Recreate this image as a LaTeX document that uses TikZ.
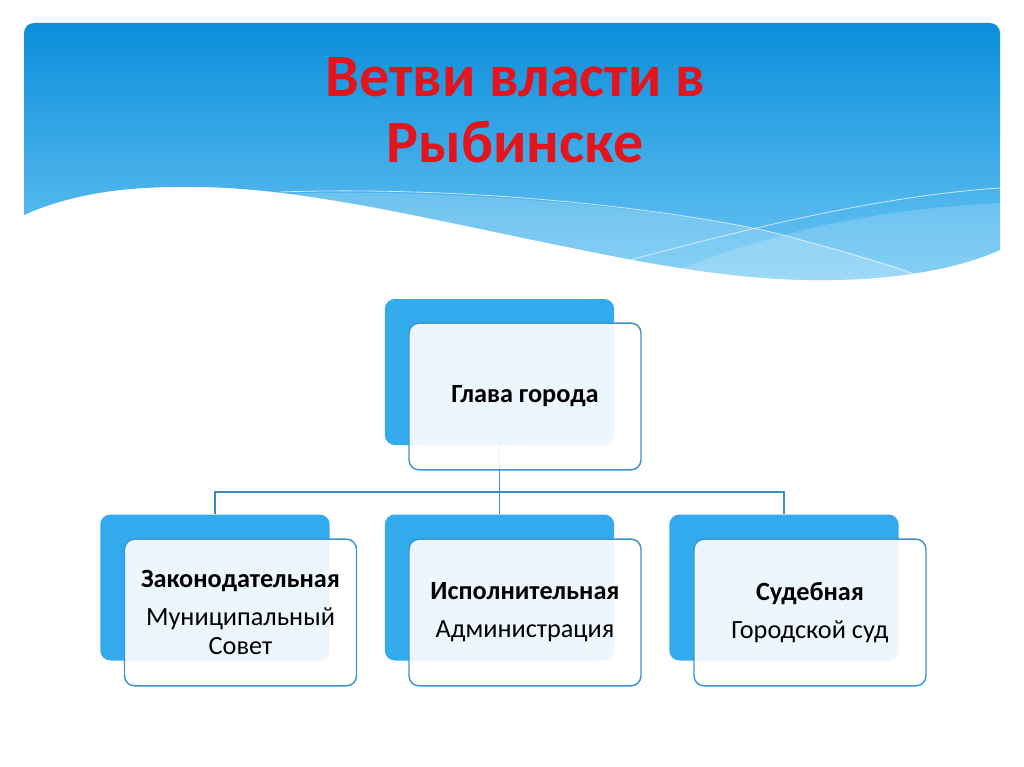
\documentclass[tikz,border=0pt]{standalone}
\usepackage{fontspec}
\setmainfont{Carlito}
\definecolor{titlered}{HTML}{E3141B}
\definecolor{backblue}{HTML}{33AAEE}
\definecolor{frontborder}{HTML}{3D95CC}
\definecolor{connblue}{HTML}{3A8CC0}
\definecolor{skytop}{HTML}{0B8EDB}
\definecolor{skybot}{HTML}{6CC6F4}
\def\panelpath{(24,215) -- (24,33) arc[start angle=180, end angle=90, radius=7.5pt] -- (990,23)
  arc[start angle=90, end angle=0, radius=7.5pt] -- (1000,250)
  .. controls (960,268) and (900,279) .. (833,280)
  .. controls (780,281) and (720,276) .. (633,260)
  .. controls (450,225) and (320,189) .. (200,187)
  .. controls (140,186) and (80,190) .. (24,215) -- cycle}
\begin{document}
\begin{tikzpicture}[x=0.75pt,y=-0.75pt,
  backbox/.style={rectangle, rounded corners=7.5pt, fill=backblue, draw=none,
    minimum width=172pt, minimum height=109.5pt, inner sep=0pt},
  frontbox/.style={rectangle, rounded corners=7.5pt, fill=white, fill opacity=0.9,
    text opacity=1, draw=frontborder, line width=1.1pt,
    minimum width=174pt, minimum height=110pt, inner sep=0pt, align=center,
    font=\fontsize{19.7}{21.75}\selectfont},
  conn/.style={draw=connblue, line width=1.1pt},
  titletext/.style={text=titlered, font=\fontsize{45}{49.5}\selectfont\bfseries, align=center},
  waveline/.style={white, opacity=0.7, line width=0.6pt}]
\useasboundingbox (0,0) rectangle (1024,767);
\fill[white] (0,0) rectangle (1024,767);
% header panel
\shade[top color=skytop, bottom color=skybot] \panelpath;
\begin{scope}
  \clip \panelpath;
  \fill[white, opacity=0.2] (260,195) .. controls (420,186) and (650,205) .. (771,232)
    .. controls (840,250) and (890,265) .. (917,275) -- (917,300) -- (260,300) -- cycle;
  \fill[white, opacity=0.18] (660,278) .. controls (780,225) and (900,208) .. (1000,203)
    -- (1000,300) -- (660,300) -- cycle;
  \draw[waveline] (280,192) .. controls (450,186) and (650,205) .. (771,232)
    .. controls (840,250) and (890,265) .. (917,275);
  \draw[waveline] (630,260) .. controls (750,228) and (880,196) .. (1000,188);
\end{scope}
% title
\node[titletext] (title) at (515,110) {Ветви власти в\\Рыбинске};
% back boxes
\node[backbox] (tb) at (499.5,372) {};
\node[backbox] (lb) at (215,587.5) {};
\node[backbox] (mb) at (499.5,587.5) {};
\node[backbox] (rb) at (784,587.5) {};
% connectors
\coordinate (bus) at (500,492);
\draw[conn] (tb.south) -- (tb.south |- bus);
\draw[conn] (lb.north) -- (lb.north |- bus) -- (rb.north |- bus) -- (rb.north);
\draw[conn] (mb.north) -- (mb.north |- bus);
% front boxes
\node[frontbox] (tf) at (525,396.5) {\textbf{Глава города}};
\node[frontbox] (lf) at (240.5,612.5) {\textbf{Законодательная}\\[6.75pt]Муниципальный\\Совет};
\node[frontbox] (mf) at (525,612.5) {\textbf{Исполнительная}\\[6.75pt]Администрация};
\node[frontbox] (rf) at (810,612.5) {\textbf{Судебная}\\[6.75pt]Городской суд};
\end{tikzpicture}
\end{document}
